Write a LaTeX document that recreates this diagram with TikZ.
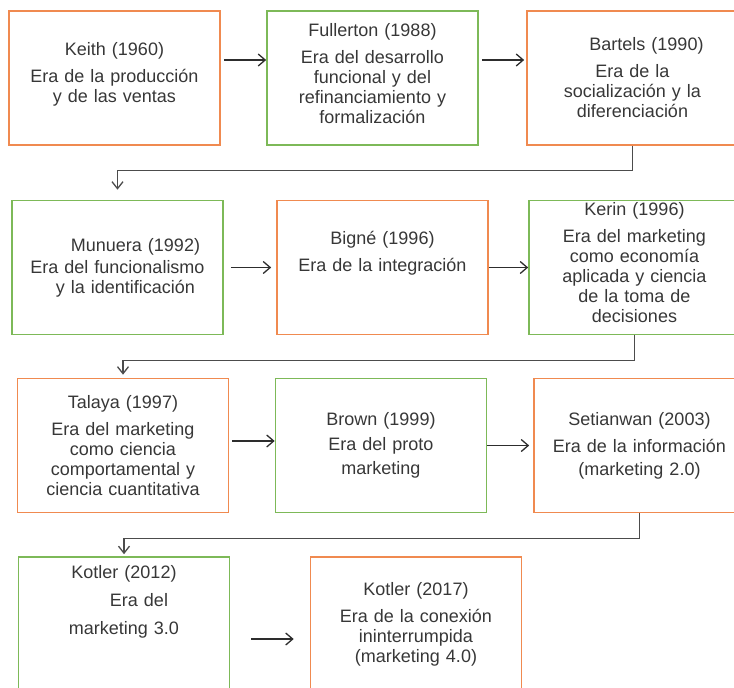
\documentclass[tikz,border=0pt]{standalone}
\usepackage{fontspec}
\setmainfont{Liberation Sans}
\usepackage{tikz}
\usetikzlibrary{arrows.meta, positioning}
\definecolor{eraorange}{RGB}{240,138,80}
\definecolor{eragreen}{RGB}{125,185,88}
\definecolor{txtgray}{RGB}{55,55,55}
\definecolor{lingray}{RGB}{45,45,45}
\newcommand\lifttext[1]{\rule[-#1]{0pt}{#1}}
\tikzstyle{arrow} = [line width=1.3pt, draw=lingray, -{Straight Barb[length=7pt,width=12pt]}]
\tikzstyle{connector} = [line width=1.3pt, draw=lingray!85, -{Straight Barb[length=7pt,width=11pt]}]
\tikzset{
	erabox/.style = {rectangle, line width=1.6pt, minimum width=211pt, minimum height=134pt,
		inner sep=0pt, text width=205pt, align=center, text=txtgray,
		font=\fontsize{18pt}{20pt}\selectfont},
	orangebox/.style = {erabox, draw=eraorange},
	greenbox/.style = {erabox, draw=eragreen}
}

\begin{document}
\begin{tikzpicture}[x=1pt, y=-1pt]
\useasboundingbox (0,0) rectangle (734,688);
\clip (0,0) rectangle (734,688);
%----------------------------------------------------------------------------
% Eras, row by row
\node (keith) [orangebox] at (114.5,78) {Keith (1960)\\[7pt] Era de la producción\\ y de las ventas\lifttext{11pt}};
\node (fullerton) [greenbox, right of = keith, node distance = 258pt] {Fullerton (1988)\\[7pt] Era del desarrollo\\ funcional y del\\ refinanciamiento y\\ formalización\lifttext{10pt}};
\node (bartels) [orangebox, right of = fullerton, node distance = 260pt] {\hspace*{28pt}Bartels (1990)\\[7pt] Era de la\\ socialización y la\\ diferenciación};

\node (munuera) [greenbox] at (117.5,267.5) {\hspace*{36pt}Munuera (1992)\\[2pt] Era del funcionalismo\\ \hspace*{16pt}y la identificación};
\node (bigne) [orangebox, right of = munuera, node distance = 265pt] {Bigné (1996)\\[7pt] Era de la integración\lifttext{32pt}};
\node (kerin) [greenbox, right of = bigne, node distance = 252pt] {Kerin (1996)\\[7pt] Era del marketing\\ como economía\\ aplicada y ciencia\\ de la toma de\\ decisiones\lifttext{10pt}};

\node (talaya) [orangebox] at (123,445.5) {Talaya (1997)\\[7pt] Era del marketing\\ como ciencia\\ comportamental y\\ ciencia cuantitativa};
\node (brown) [greenbox, right of = talaya, node distance = 258pt] {Brown (1999)\\[5pt] Era del proto\\[4pt] marketing};
\node (setianwan) [orangebox, right of = brown, node distance = 258.5pt] {Setianwan (2003)\\[7pt] Era de la información\\[3pt] (marketing 2.0)};

\node (kotlerA) [greenbox] at (124,624) {Kotler (2012)\\[8pt] \hspace*{30pt}Era del\\[8pt] marketing 3.0\lifttext{48pt}};
\node (kotlerB) [orangebox, right of = kotlerA, node distance = 292pt] {Kotler (2017)\\[7pt] Era de la conexión\\ ininterrumpida\\ (marketing 4.0)};

%----------------------------------------------------------------------------
% Arrows within a row
\draw [arrow, shorten <=3pt] ([yshift=18pt]keith.east) -- ([yshift=18pt]fullerton.west);
\draw [arrow, shorten <=3pt, shorten >=2pt] ([yshift=18pt]fullerton.east) -- ([yshift=18pt]bartels.west);

\draw [arrow, shorten <=7pt, shorten >=5pt] (munuera) -- (bigne);
\draw [arrow] (bigne) -- (kerin);

\draw [arrow, shorten <=3pt] ([yshift=4.5pt]talaya.east) -- ([yshift=4.5pt]brown.west);
\draw [arrow, shorten >=4pt] (brown) -- (setianwan);

\draw [arrow, shorten <=21pt, shorten >=16pt] ([yshift=-15pt]kotlerA.east) -- ([yshift=-15pt]kotlerB.west);

%----------------------------------------------------------------------------
% Elbows down to the next row
\draw [connector, shorten >=10pt] (bartels.south) -- ++(0,25) -| (munuera.north);
\draw [connector, shorten >=3pt] (kerin.south) -- ++(0,25) -| (talaya.north);
\draw [connector, shorten >=2pt] (setianwan.south) -- ++(0,25) -| (kotlerA.north);
\end{tikzpicture}
\end{document}
